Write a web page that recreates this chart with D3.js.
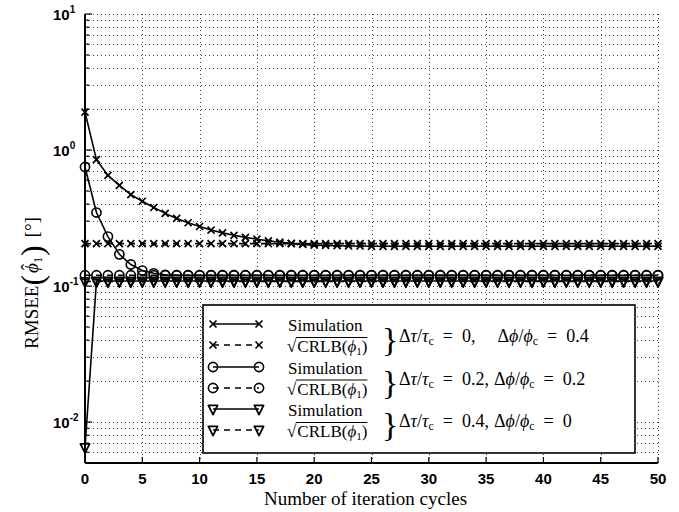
<!DOCTYPE html>
<html><head><meta charset="utf-8">
<script src="https://cdn.jsdelivr.net/npm/d3@7"></script>
<style>body{margin:0;background:#fff}svg{display:block}</style>
</head><body>
<svg id="c" width="679" height="512"></svg>
<script>
const iterations = [0,1,2,3,4,5,6,7,8,9,10,11,12,13,14,15,16,17,18,19,20,21,22,23,24,25,26,27,28,29,30,31,32,33,34,35,36,37,38,39,40,41,42,43,44,45,46,47,48,49,50];
const simA = [1.9,0.85,0.65,0.55,0.47,0.42,0.378,0.342,0.314,0.292,0.274,0.258,0.246,0.236,0.228,0.221,0.215,0.21,0.206,0.202,0.2,0.199,0.198,0.197,0.197,0.196,0.196,0.196,0.196,0.196,0.196,0.196,0.196,0.196,0.196,0.196,0.196,0.196,0.196,0.196,0.196,0.196,0.196,0.196,0.196,0.196,0.196,0.196,0.196,0.196,0.196];
const crlbA = [0.205,0.205,0.205,0.205,0.205,0.205,0.205,0.205,0.205,0.205,0.205,0.205,0.205,0.205,0.205,0.205,0.205,0.205,0.205,0.205,0.205,0.205,0.205,0.205,0.205,0.205,0.205,0.205,0.205,0.205,0.205,0.205,0.205,0.205,0.205,0.205,0.205,0.205,0.205,0.205,0.205,0.205,0.205,0.205,0.205,0.205,0.205,0.205,0.205,0.205,0.205];
const simB = [0.75,0.347,0.231,0.171,0.144,0.13,0.124,0.121,0.12,0.12,0.12,0.12,0.12,0.12,0.12,0.12,0.12,0.12,0.12,0.12,0.12,0.12,0.12,0.12,0.12,0.12,0.12,0.12,0.12,0.12,0.12,0.12,0.12,0.12,0.12,0.12,0.12,0.12,0.12,0.12,0.12,0.12,0.12,0.12,0.12,0.12,0.12,0.12,0.12,0.12,0.12];
const crlbB = [0.12,0.12,0.12,0.12,0.12,0.12,0.12,0.12,0.12,0.12,0.12,0.12,0.12,0.12,0.12,0.12,0.12,0.12,0.12,0.12,0.12,0.12,0.12,0.12,0.12,0.12,0.12,0.12,0.12,0.12,0.12,0.12,0.12,0.12,0.12,0.12,0.12,0.12,0.12,0.12,0.12,0.12,0.12,0.12,0.12,0.12,0.12,0.12,0.12,0.12,0.12];
const simC = [0.0065,0.109,0.109,0.109,0.109,0.109,0.109,0.109,0.109,0.109,0.109,0.109,0.109,0.109,0.109,0.109,0.109,0.109,0.109,0.109,0.109,0.109,0.109,0.109,0.109,0.109,0.109,0.109,0.109,0.109,0.109,0.109,0.109,0.109,0.109,0.109,0.109,0.109,0.109,0.109,0.109,0.109,0.109,0.109,0.109,0.109,0.109,0.109,0.109,0.109,0.109];
const crlbC = [0.108,0.108,0.108,0.108,0.108,0.108,0.108,0.108,0.108,0.108,0.108,0.108,0.108,0.108,0.108,0.108,0.108,0.108,0.108,0.108,0.108,0.108,0.108,0.108,0.108,0.108,0.108,0.108,0.108,0.108,0.108,0.108,0.108,0.108,0.108,0.108,0.108,0.108,0.108,0.108,0.108,0.108,0.108,0.108,0.108,0.108,0.108,0.108,0.108,0.108,0.108];
const xTicks = [0,5,10,15,20,25,30,35,40,45,50];
const yDecades = [-2,-1,0,1];
const legendConds = [["0,","0.4"],["0.2,","0.2"],["0.4,","0"]];

const svg = d3.select("#c");
const L=85,R=658,T=14,B=463;
const SERIF = "'Liberation Serif', 'DejaVu Serif', serif";
const SANS = "'Liberation Sans', Arial, sans-serif";
const x = d3.scaleLinear().domain([0,50]).range([L,R]);
const y = d3.scaleLog().domain([0.005,10]).range([B,T]);

// grid
const grid = svg.append("g").attr("stroke","#444").attr("stroke-width",1).attr("stroke-dasharray","1,3");
const minorVals = [];
[-3,-2,-1,0].forEach(e=>{for(let k=1;k<=9;k++){const v=k*Math.pow(10,e); if(v>=0.005&&v<=10) minorVals.push(v);}});
minorVals.push(10);
grid.selectAll(".hy").data(minorVals).join("line").attr("x1",L).attr("x2",R)
  .attr("y1",d=>Math.round(y(d))+0.5).attr("y2",d=>Math.round(y(d))+0.5);
grid.selectAll(".vx").data(xTicks.slice(1)).join("line").attr("y1",T).attr("y2",B)
  .attr("x1",d=>Math.round(x(d))+0.5).attr("x2",d=>Math.round(x(d))+0.5);

// axes lines
svg.append("line").attr("x1",L).attr("x2",L).attr("y1",T).attr("y2",B).attr("stroke","#000").attr("stroke-width",2);
svg.append("line").attr("x1",L).attr("x2",R).attr("y1",B).attr("y2",B).attr("stroke","#000").attr("stroke-width",2);
const isDecade = d => Math.abs(Math.log10(d)-Math.round(Math.log10(d)))<1e-9;
svg.selectAll(".yt").data(minorVals).join("line").attr("x1",L).attr("x2",d=>L+(isDecade(d)?7:4))
  .attr("y1",d=>y(d)).attr("y2",d=>y(d)).attr("stroke","#000").attr("stroke-width",1.2);
svg.selectAll(".xt").data(xTicks).join("line").attr("x1",d=>x(d)).attr("x2",d=>x(d)).attr("y1",B).attr("y2",B-6).attr("stroke","#000").attr("stroke-width",1.2);

// tick labels
svg.selectAll(".xl").data(xTicks).join("text").attr("x",d=>x(d)).attr("y",B+21).attr("text-anchor","middle")
  .attr("font-family",SANS).attr("font-size",15).attr("font-weight","bold").text(d=>d);
const yl = svg.selectAll(".yl").data(yDecades).join("text").attr("x",L-32).attr("y",d=>y(Math.pow(10,d))+6)
  .attr("font-family",SANS).attr("font-size",15).attr("font-weight","bold");
yl.append("tspan").text("10");
yl.append("tspan").attr("dy",-7).attr("font-size",10).text(d=>d);

// axis titles
svg.append("text").attr("x",(L+R)/2-6).attr("y",505).attr("text-anchor","middle")
  .attr("font-family",SERIF).attr("font-size",19).text("Number of iteration cycles");
const yg = svg.append("g").attr("transform","translate(38,283) rotate(-90)");
const yt = yg.append("text").attr("text-anchor","middle").attr("font-family",SERIF).attr("font-size",19);
yt.append("tspan").text("RMSEE");
yt.append("tspan").attr("font-size",32).attr("dy",5).text("(");
yt.append("tspan").attr("font-style","italic").attr("dy",-5).attr("dx",2).text("ϕ");
yt.append("tspan").attr("font-size",12).attr("dy",4).text("1");
yt.append("tspan").attr("font-size",32).attr("dy",1).attr("dx",1).text(")");
yt.append("tspan").attr("dy",-5).attr("dx",8).text("[°]");
{
  const ext = yt.node().getExtentOfChar(6);
  yg.append("text").attr("x",ext.x+ext.width/2+1).attr("y",ext.y+13).attr("text-anchor","middle")
    .attr("font-family",SERIF).attr("font-size",19).text("ˆ");
}

// series
const series = [
  {vals:simA, marker:"x", dash:null},
  {vals:crlbA, marker:"x", dash:"6,5"},
  {vals:simB, marker:"o", dash:null},
  {vals:crlbB, marker:"o", dash:"6,5"},
  {vals:simC, marker:"v", dash:null},
  {vals:crlbC, marker:"v", dash:"6,5"}
];
const line = d3.line().x((d,i)=>x(iterations[i])).y(d=>y(d));
function drawMarker(g, type, cx, cy){
  if(type==="x"){
    const s=3.5;
    g.append("path").attr("d",`M${cx-s},${cy-s}L${cx+s},${cy+s}M${cx-s},${cy+s}L${cx+s},${cy-s}`)
      .attr("stroke","#000").attr("stroke-width",1.7).attr("fill","none");
  } else if(type==="o"){
    g.append("circle").attr("cx",cx).attr("cy",cy).attr("r",4.6).attr("stroke","#000").attr("stroke-width",1.6).attr("fill","none");
  } else {
    const s=4.6;
    g.append("path").attr("d",`M${cx-s},${cy-s+1}L${cx+s},${cy-s+1}L${cx},${cy+s+1}Z`)
      .attr("stroke","#000").attr("stroke-width",1.8).attr("fill","none").attr("stroke-linejoin","round");
  }
}
const sg = svg.append("g");
series.forEach(s=>{
  sg.append("path").datum(s.vals).attr("d",line).attr("fill","none").attr("stroke","#000").attr("stroke-width",1.6)
    .attr("stroke-dasharray",s.dash);
  s.vals.forEach((v,i)=>drawMarker(sg,s.marker,x(iterations[i]),y(v)));
});

// legend
const lg = svg.append("g");
lg.append("rect").attr("x",203).attr("y",305).attr("width",432).attr("height",148).attr("fill","#fff").attr("stroke","#000").attr("stroke-width",1.6);
const rowY=[324,345,367,388,409,430];
const mk=["x","x","o","o","v","v"];
rowY.forEach((ry,i)=>{
  lg.append("line").attr("x1",213).attr("x2",259).attr("y1",ry).attr("y2",ry).attr("stroke","#000").attr("stroke-width",1.6)
    .attr("stroke-dasharray",i%2?"6,5":null);
  drawMarker(lg,mk[i],213,ry); drawMarker(lg,mk[i],259,ry);
});
const EQ = "\u2002=\u2002";
[0,1,2].forEach(k=>{
  const by = 331 + k*42.5;
  lg.append("text").attr("x",288).attr("y",by).attr("font-family",SERIF).attr("font-size",17).text("Simulation");
  const t2 = lg.append("text").attr("x",287).attr("y",by+21).attr("font-family",SERIF).attr("font-size",17);
  t2.append("tspan").text("√");
  t2.append("tspan").attr("dx",1).text("CRLB(");
  t2.append("tspan").attr("font-style","italic").text("ϕ");
  t2.append("tspan").attr("font-size",11).attr("dy",3).text("1");
  t2.append("tspan").attr("dy",-3).text(")");
  const e0 = t2.node().getExtentOfChar(0);
  const w = t2.node().getComputedTextLength();
  lg.append("line").attr("x1",e0.x+e0.width-0.5).attr("x2",287+w+1).attr("y1",by+6.5).attr("y2",by+6.5).attr("stroke","#000").attr("stroke-width",1);
  lg.append("text").attr("x",382).attr("y",by+20).attr("font-family",SERIF).attr("font-size",34).text("}");
  const t3 = lg.append("text").attr("x",399).attr("y",by+11).attr("font-family",SERIF).attr("font-size",18);
  t3.append("tspan").text("Δ");
  t3.append("tspan").attr("font-style","italic").text("τ");
  t3.append("tspan").text("/");
  t3.append("tspan").attr("font-style","italic").text("τ");
  t3.append("tspan").attr("font-size",12).attr("dy",3).text("c");
  t3.append("tspan").attr("dy",-3).text(EQ+legendConds[k][0]);
  t3.append("tspan").attr("dx",k===0?22:5).text("Δ");
  t3.append("tspan").attr("font-style","italic").text("ϕ");
  t3.append("tspan").text("/");
  t3.append("tspan").attr("font-style","italic").text("ϕ");
  t3.append("tspan").attr("font-size",12).attr("dy",3).text("c");
  t3.append("tspan").attr("dy",-3).text(EQ+legendConds[k][1]);
});
</script>
</body></html>
